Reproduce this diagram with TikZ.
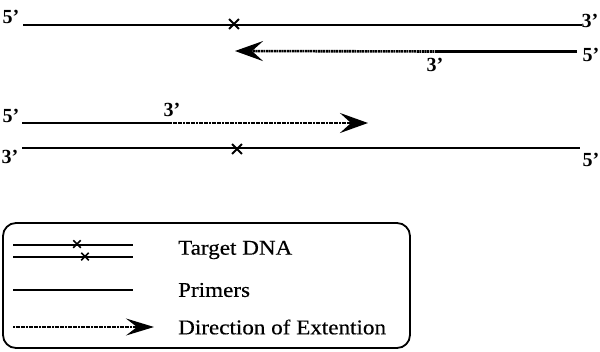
\documentclass[tikz,border=0pt]{standalone}
\usepackage{fontspec}
\setmainfont{Liberation Serif}
\usetikzlibrary{arrows.meta,shapes.misc}

\tikzset{
  strand/.style={line width=2.4pt},
  extend/.style={line width=2.6pt, dash pattern=on 2pt off 0.6pt},
  barb/.style={-{Stealth[length=28pt, width=20pt, inset=11pt]}},
  endlabel/.style={font=\fontsize{20}{20}\selectfont\bfseries, inner sep=0pt},
  site/.style={draw, cross out, line width=1.8pt, minimum width=8pt, minimum height=8pt, inner sep=0pt},
  legtext/.style={font=\fontsize{21}{22}\selectfont\addfontfeatures{FakeStretch=1.1,FakeBold=0.4}, anchor=west, inner sep=0pt}
}

\begin{document}
\begin{tikzpicture}[x=1pt, y=-1pt]
    \useasboundingbox (0,0) rectangle (600,351);

    % top pair
    \coordinate (t1s) at (23,25);
    \coordinate (t1e) at (582,25);
    \draw[strand] (t1s) -- (t1e);
    \node[site] (x1) at (234,24) {};
    \node[endlabel] (t1l) at (11,17) {5'};
    \node[endlabel] (t1r) at (590,21) {3'};

    \coordinate (p1s) at (577,51.5);
    \coordinate (p1m) at (437,51.5);
    \coordinate (p1e) at (235,51);
    \draw[strand] (p1s) -- (p1m);
    \draw[extend, barb] (p1m) -- (p1e);
    \node[endlabel] (p1r) at (591,55) {5'};
    \node[endlabel] (p1b) at (435,65) {3'};

    % bottom pair
    \coordinate (p2s) at (22,123);
    \coordinate (p2m) at (170,123);
    \coordinate (p2e) at (368,123);
    \draw[strand] (p2s) -- (p2m);
    \draw[extend, barb] (p2m) -- (p2e);
    \node[endlabel] (p2l) at (11,116) {5'};
    \node[endlabel] (p2t) at (172,110) {3'};

    \coordinate (t2s) at (22,148);
    \coordinate (t2e) at (580,148);
    \draw[strand] (t2s) -- (t2e);
    \node[site] (x2) at (237,149) {};
    \node[endlabel] (t2l) at (10,157) {3'};
    \node[endlabel] (t2r) at (591,160) {5'};

    % legend
    \draw[line width=1.8pt, rounded corners=13pt] (3,223) rectangle (410,348);

    \coordinate (la1) at (13,245);
    \coordinate (lb1) at (133,245);
    \coordinate (la2) at (13,257);
    \coordinate (lb2) at (133,257);
    \draw[strand, line width=1.8pt] (la1) -- (lb1);
    \draw[strand, line width=1.8pt] (la2) -- (lb2);
    \node[site, minimum width=6pt, minimum height=6pt, line width=1.5pt] (lx1) at (77,244) {};
    \node[site, minimum width=6pt, minimum height=6pt, line width=1.5pt] (lx2) at (85,256.5) {};
    \node[legtext] (target) at (178,250) {Target DNA};

    \coordinate (lc1) at (13,290);
    \coordinate (lc2) at (133,290);
    \draw[strand, line width=1.8pt] (lc1) -- (lc2);
    \node[legtext] (primers) at (178,290) {Primers};

    \coordinate (ld1) at (13,327);
    \coordinate (ld2) at (154,327);
    \draw[extend, line width=2.2pt, -{Stealth[length=28pt, width=17pt, inset=11pt]}] (ld1) -- (ld2);
    \node[legtext] (direction) at (178,327) {Direction of Extention};
\end{tikzpicture}
\end{document}
